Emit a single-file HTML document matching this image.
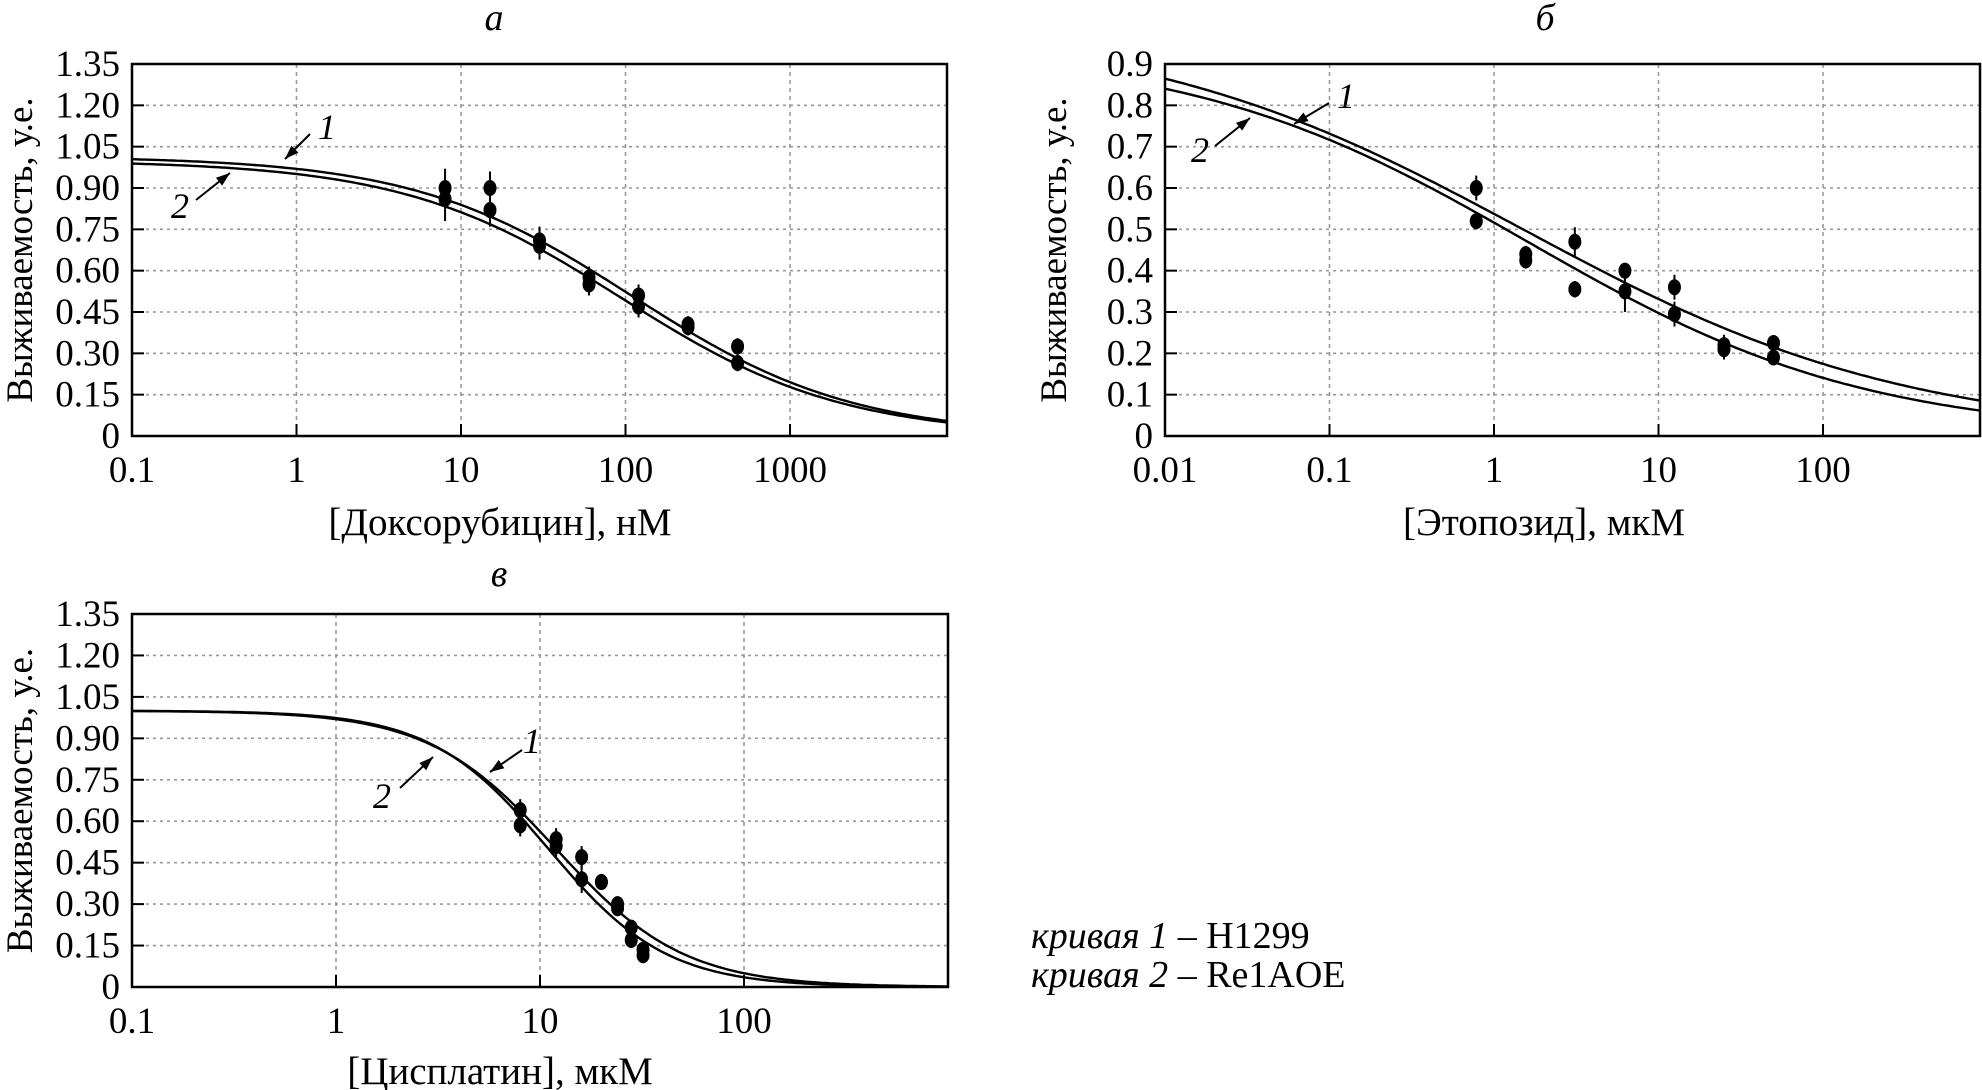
<!DOCTYPE html>
<html><head><meta charset="utf-8"><style>
html,body{margin:0;padding:0;background:#fff}
svg{display:block}
text{font-family:"Liberation Serif",serif;fill:#000}
</style></head><body>
<svg id="c" width="1982" height="1090" viewBox="0 0 1982 1090" xmlns="http://www.w3.org/2000/svg">
<g id="root"></g>
<text x="1031" y="948" font-size="38"><tspan font-style="italic">кривая 1</tspan> – H1299</text>
<text x="1031" y="987" font-size="38"><tspan font-style="italic">кривая 2</tspan> – Re1AOE</text>
</svg>
<script>
// Panel a: doxorubicin
const aX = [8, 15, 30, 60, 120, 240, 480];
const aY1 = [0.90, 0.90, 0.71, 0.575, 0.51, 0.405, 0.325];
const aE1 = [0.07, 0.06, 0.05, 0.04, 0.04, 0.03, 0.03];
const aY2 = [0.86, 0.82, 0.69, 0.55, 0.47, 0.395, 0.265];
const aE2 = [0.08, 0.06, 0.05, 0.04, 0.04, 0.03, 0.03];
const aFit1 = [1.015, 110, 0.65];
const aFit2 = [1.0, 95, 0.65];
const aYTicks = ["0","0.15","0.30","0.45","0.60","0.75","0.90","1.05","1.20","1.35"];
const aXTicks = ["0.1","1","10","100","1000"];
// Panel b: etoposide
const bX = [0.78, 1.56, 3.1, 6.25, 12.5, 25, 50];
const bY1 = [0.60, 0.44, 0.47, 0.40, 0.36, 0.22, 0.225];
const bE1 = [0.03, 0.02, 0.035, 0.015, 0.03, 0.025, 0.01];
const bY2 = [0.52, 0.425, 0.355, 0.35, 0.295, 0.21, 0.19];
const bE2 = [0.02, 0.02, 0.02, 0.05, 0.03, 0.025, 0.01];
const bFit1 = [1.0, 1.5, 0.37];
const bFit2 = [0.94, 1.6, 0.42];
const bYTicks = ["0","0.1","0.2","0.3","0.4","0.5","0.6","0.7","0.8","0.9"];
const bXTicks = ["0.01","0.1","1","10","100"];
// Panel c: cisplatin
const cX = [8, 12, 16, 20, 24, 28, 32];
const cY1 = [0.64, 0.535, 0.47, 0.38, 0.30, 0.215, 0.135];
const cE1 = [0.04, 0.04, 0.04, 0.01, 0.02, 0.02, 0.01];
const cY2 = [0.585, 0.51, 0.39, 0.38, 0.285, 0.17, 0.115];
const cE2 = [0.04, 0.04, 0.05, 0.01, 0.02, 0.02, 0.01];
const cFit1 = [1.0, 12, 1.39];
const cFit2 = [1.0, 11, 1.5];
const cYTicks = ["0","0.15","0.30","0.45","0.60","0.75","0.90","1.05","1.20","1.35"];
const cXTicks = ["0.1","1","10","100"];

const NS="http://www.w3.org/2000/svg";
const root=document.getElementById('root');
function mk(tag,attrs,parent){const e=document.createElementNS(NS,tag);for(const k in attrs)e.setAttribute(k,attrs[k]);(parent||root).appendChild(e);return e;}

function panel(o){
  const g=mk('g',{});
  
  
  const L=o.l,R=o.r,T=o.t,B=o.b;
  const sx=v=>L+(Math.log10(v)-Math.log10(o.xmin))/(Math.log10(o.xmax)-Math.log10(o.xmin))*(R-L);
  const sy=v=>B-v/o.ymax*(B-T);
  o.xticks.forEach(t=>{const x=sx(parseFloat(t));
    if(x>L+2){const gl=mk('line',{x1:x,x2:x,y1:T,y2:B,stroke:'#999','stroke-width':1.6,'stroke-dasharray':'4,4'},g);
    
    
    mk('line',{x1:x,x2:x,y1:B,y2:B-12,stroke:'#000','stroke-width':2},g);}
    const tx=mk('text',{x:x,y:o.xty,'font-size':37,'text-anchor':'middle'},g);tx.textContent=t;
    
    
  });
  o.yticks.forEach(t=>{const y=sy(parseFloat(t));
    if(y>T+2&&y<B-2){const gl=mk('line',{x1:L,x2:R,y1:y,y2:y,stroke:'#999','stroke-width':1.6,'stroke-dasharray':'3,4'},g);
    
    
    mk('line',{x1:L,x2:L+12,y1:y,y2:y,stroke:'#000','stroke-width':2},g);}
    const tx=mk('text',{x:o.l-12,y:y+12,'font-size':37,'text-anchor':'end'},g);tx.textContent=t;
    
    
  });
  [o.fit1,o.fit2].forEach((f,i)=>{
    let d='';const N=200;
    for(let k=0;k<=N;k++){const lx=Math.log10(o.xmin)+k/N*(Math.log10(o.xmax)-Math.log10(o.xmin));const x=Math.pow(10,lx);
      const y=f[0]/(1+Math.pow(x/f[1],f[2]));d+=(k?'L':'M')+sx(x).toFixed(1)+','+sy(y).toFixed(1);}
    const p=mk('path',{d:d,fill:'none',stroke:'#000','stroke-width':2.4},g);
    
    
  });
  [[o.y1,o.e1],[o.y2,o.e2]].forEach((s,si)=>{
    o.xs.forEach((xv,j)=>{const x=sx(xv),y=sy(s[0][j]);
      const eb=mk('line',{x1:x,x2:x,y1:sy(s[0][j]+s[1][j]),y2:sy(s[0][j]-s[1][j]),stroke:'#000','stroke-width':2},g);
      
      
      const pt=mk('ellipse',{cx:x,cy:y,rx:6.5,ry:8,fill:'#000'},g);
      
      
    });
  });
  const fr=mk('rect',{x:L,y:T,width:R-L,height:B-T,fill:'none',stroke:'#000','stroke-width':2.5},g);
  
  
  const ti=mk('text',{x:o.titleX,y:o.titleY,'font-size':38,'font-style':'italic','text-anchor':'middle'},g);ti.textContent=o.title;
  
  
  const xt=mk('text',{x:o.xlabX,y:o.xlabY,'font-size':39,'text-anchor':'middle'},g);xt.textContent=o.xlabel;
  
  
  const yt=mk('text',{x:0,y:0,'font-size':37,'text-anchor':'middle',transform:`translate(${o.ylabX},${(T+B)/2}) rotate(-90)`},g);yt.textContent='Выживаемость, у.е.';
  
  
  o.ann.forEach(a=>{
    const t=mk('text',{x:a[0],y:a[1],'font-size':36,'font-style':'italic','text-anchor':'middle'},g);t.textContent=a[2];
    
    
    const x1=a[3],y1=a[4],x2=a[5],y2=a[6];
    mk('line',{x1:x1,y1:y1,x2:x2,y2:y2,stroke:'#000','stroke-width':2},g);
    const ang=Math.atan2(y2-y1,x2-x1),hl=14,hw=5;
    const bx=x2-hl*Math.cos(ang),by=y2-hl*Math.sin(ang);
    mk('polygon',{points:`${x2},${y2} ${bx-hw*Math.sin(ang)},${by+hw*Math.cos(ang)} ${bx+hw*Math.sin(ang)},${by-hw*Math.cos(ang)}`,fill:'#000'},g);
  });
}
panel({name:'panel-a-doxorubicin',l:132,r:947,t:64,b:436,xmin:0.1,xmax:9000,ymax:1.35,xs:aX,y1:aY1,e1:aE1,y2:aY2,e2:aE2,fit1:aFit1,fit2:aFit2,
  yticks:aYTicks,xticks:aXTicks,xty:482,title:'а',titleX:494,titleY:30,xlabel:'[Доксорубицин], нМ',xlabX:500,xlabY:535,ylabX:32,
  ann:[[327,139,'1',310,134,285,159],[180,218,'2',196,200,230,173]]});
panel({name:'panel-b-etoposide',l:1165,r:1980,t:64,b:436,xmin:0.01,xmax:900,ymax:0.9,xs:bX,y1:bY1,e1:bE1,y2:bY2,e2:bE2,fit1:bFit1,fit2:bFit2,
  yticks:bYTicks,xticks:bXTicks,xty:482,title:'б',titleX:1545,titleY:30,xlabel:'[Этопозид], мкМ',xlabX:1544,xlabY:535,ylabX:1066,
  ann:[[1346,108,'1',1329,103,1294,124],[1200,162,'2',1215,146,1250,118]]});
panel({name:'panel-c-cisplatin',l:132,r:948,t:614,b:987,xmin:0.1,xmax:1000,ymax:1.35,xs:cX,y1:cY1,e1:cE1,y2:cY2,e2:cE2,fit1:cFit1,fit2:cFit2,
  yticks:cYTicks,xticks:cXTicks,xty:1033,title:'в',titleX:499,titleY:586,xlabel:'[Цисплатин], мкМ',xlabX:500,xlabY:1084,ylabX:32,
  ann:[[532,753,'1',522,750,490,772],[382,808,'2',400,788,433,757]]});
</script>
</body></html>
